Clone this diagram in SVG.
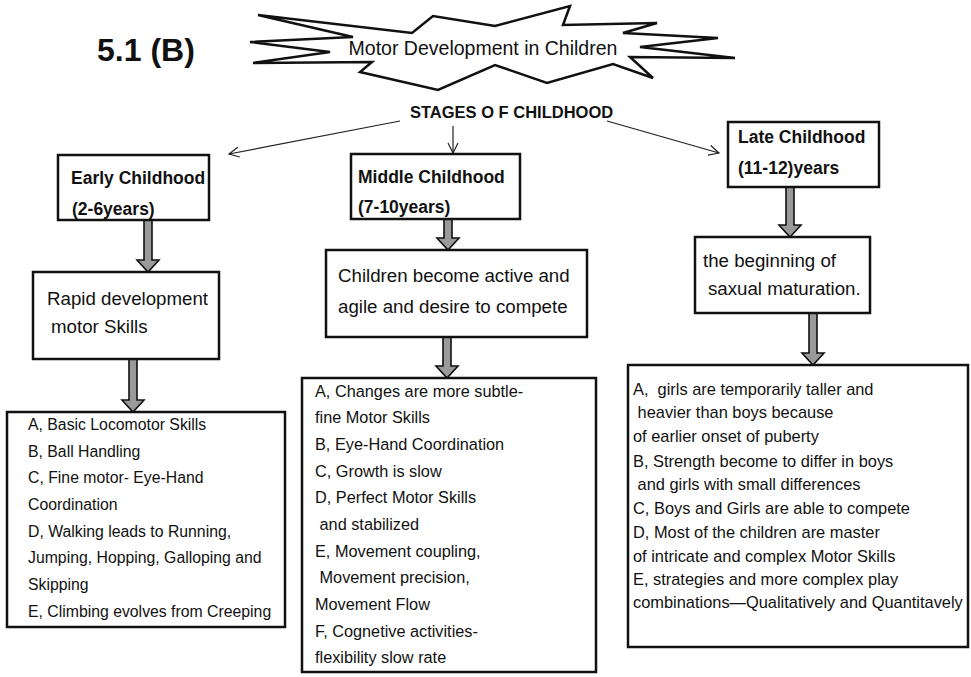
<svg xmlns="http://www.w3.org/2000/svg" width="971" height="677" viewBox="0 0 971 677">
<defs>
<style>
.box{fill:#fff;stroke:#111;stroke-width:2.5}
.star{fill:#fff;stroke:#111;stroke-width:2.5;stroke-linejoin:miter}
.thin{fill:none;stroke:#222;stroke-width:1.2}
.thick{fill:#9a9a9a;stroke:#111;stroke-width:1.6;stroke-linejoin:miter}
text{font-family:"Liberation Sans",Arial,sans-serif;fill:#111;white-space:pre}
.hd{font-size:17.5px;font-weight:bold}
.mid{font-size:18.7px}
.l1{font-size:15.8px}
.l2{font-size:16.3px}
.l3{font-size:16.4px}
</style>
<marker id="open" viewBox="0 0 12 12" refX="11" refY="6" markerWidth="12" markerHeight="12" markerUnits="userSpaceOnUse" orient="auto">
<path d="M1,1 L11,6 L1,11" fill="none" stroke="#222" stroke-width="1.2"/>
</marker>
</defs>
<rect width="971" height="677" fill="#fff"/>

<g id="label">
<text x="97" y="61" style="font-size:32px;font-weight:bold">5.1 (B)</text>
</g>

<g id="title">
<polygon class="star" points="258,15 412,33 433,16 495,26 570,6 563,25 657,23 623,33 718,38 640,47 735,58 630,57 653,78 613,64 547,83 495,65 438,90 360,72 372,62 253,63 330,52 250,42 353,37"/>
<text x="483" y="55" text-anchor="middle" style="font-size:19.5px">Motor Development in Children</text>
</g>

<g id="stages">
<text x="410" y="118" style="font-size:16.5px;font-weight:bold">STAGES O F CHILDHOOD</text>
</g>

<g id="connectors">
<line class="thin" x1="400" y1="121" x2="229" y2="154" marker-end="url(#open)"/>
<line class="thin" x1="453" y1="126" x2="453" y2="153" marker-end="url(#open)"/>
<line class="thin" x1="607" y1="121" x2="719" y2="153" marker-end="url(#open)"/>
<path class="thick" d="M144,220 L144,260 L137,260 L148,272 L159,260 L152,260 L152,220 Z"/>
<path class="thick" d="M129,359 L129,400 L122,400 L133,412 L144,400 L137,400 L137,359 Z"/>
<path class="thick" d="M444,219 L444,238 L437,238 L448,250 L459,238 L452,238 L452,219 Z"/>
<path class="thick" d="M443,337 L443,366 L436,366 L447,378 L458,366 L451,366 L451,337 Z"/>
<path class="thick" d="M786,187 L786,225 L779,225 L790,237 L801,225 L794,225 L794,187 Z"/>
<path class="thick" d="M809,313 L809,353 L802,353 L813,365 L824,353 L817,353 L817,313 Z"/>
</g>

<g id="early">
<rect class="box" x="58" y="155" width="151" height="65"/>
<text class="hd" x="71" y="184">Early Childhood</text>
<text class="hd" x="72" y="215">(2-6years)</text>
</g>

<g id="early-desc">
<rect class="box" x="33" y="272" width="186" height="87"/>
<text class="mid" x="47" y="305">Rapid development</text>
<text class="mid" x="51" y="333">motor Skills</text>
</g>

<g id="early-list">
<rect class="box" x="7" y="412" width="278" height="215"/>
<text class="l1" x="28" y="430">A, Basic Locomotor Skills</text>
<text class="l1" x="28" y="457">B, Ball Handling</text>
<text class="l1" x="28" y="483">C, Fine motor- Eye-Hand</text>
<text class="l1" x="28" y="510">Coordination</text>
<text class="l1" x="28" y="537">D, Walking leads to Running,</text>
<text class="l1" x="28" y="563">Jumping, Hopping, Galloping and</text>
<text class="l1" x="28" y="590">Skipping</text>
<text class="l1" x="28" y="617">E, Climbing evolves from Creeping</text>
</g>

<g id="middle">
<rect class="box" x="351" y="154" width="169" height="65"/>
<text class="hd" x="358" y="183">Middle Childhood</text>
<text class="hd" x="358" y="213">(7-10years)</text>
</g>

<g id="middle-desc">
<rect class="box" x="326" y="250" width="261" height="87"/>
<text class="mid" x="338" y="282">Children become active and</text>
<text class="mid" x="338" y="313">agile and desire to compete</text>
</g>

<g id="middle-list">
<rect class="box" x="302" y="378" width="294" height="294"/>
<text class="l2" x="315" y="397">A, Changes are more subtle-</text>
<text class="l2" x="315" y="423">fine Motor Skills</text>
<text class="l2" x="315" y="450">B, Eye-Hand Coordination</text>
<text class="l2" x="315" y="477">C, Growth is slow</text>
<text class="l2" x="315" y="503">D, Perfect Motor Skills</text>
<text class="l2" x="315" y="530"> and stabilized</text>
<text class="l2" x="315" y="557">E, Movement coupling,</text>
<text class="l2" x="315" y="583"> Movement precision,</text>
<text class="l2" x="315" y="610">Movement Flow</text>
<text class="l2" x="315" y="637">F, Cognetive activities-</text>
<text class="l2" x="315" y="663">flexibility slow rate</text>
</g>

<g id="late">
<rect class="box" x="728" y="122" width="151" height="65"/>
<text class="hd" x="738" y="143">Late Childhood</text>
<text class="hd" x="738" y="174">(11-12)years</text>
</g>

<g id="late-desc">
<rect class="box" x="695" y="237" width="175" height="76"/>
<text class="mid" x="703" y="267">the beginning of</text>
<text class="mid" x="708" y="295">saxual maturation.</text>
</g>

<g id="late-list">
<rect class="box" x="628" y="365" width="340" height="282"/>
<text class="l3" x="633" y="395">A,  girls are temporarily taller and</text>
<text class="l3" x="633" y="418"> heavier than boys because</text>
<text class="l3" x="633" y="442">of earlier onset of puberty</text>
<text class="l3" x="633" y="467">B, Strength become to differ in boys</text>
<text class="l3" x="633" y="490"> and girls with small differences</text>
<text class="l3" x="633" y="514">C, Boys and Girls are able to compete</text>
<text class="l3" x="633" y="538">D, Most of the children are master</text>
<text class="l3" x="633" y="562">of intricate and complex Motor Skills</text>
<text class="l3" x="633" y="585">E, strategies and more complex play</text>
<text class="l3" x="633" y="608">combinations—Qualitatively and Quantitavely</text>
</g>
</svg>
